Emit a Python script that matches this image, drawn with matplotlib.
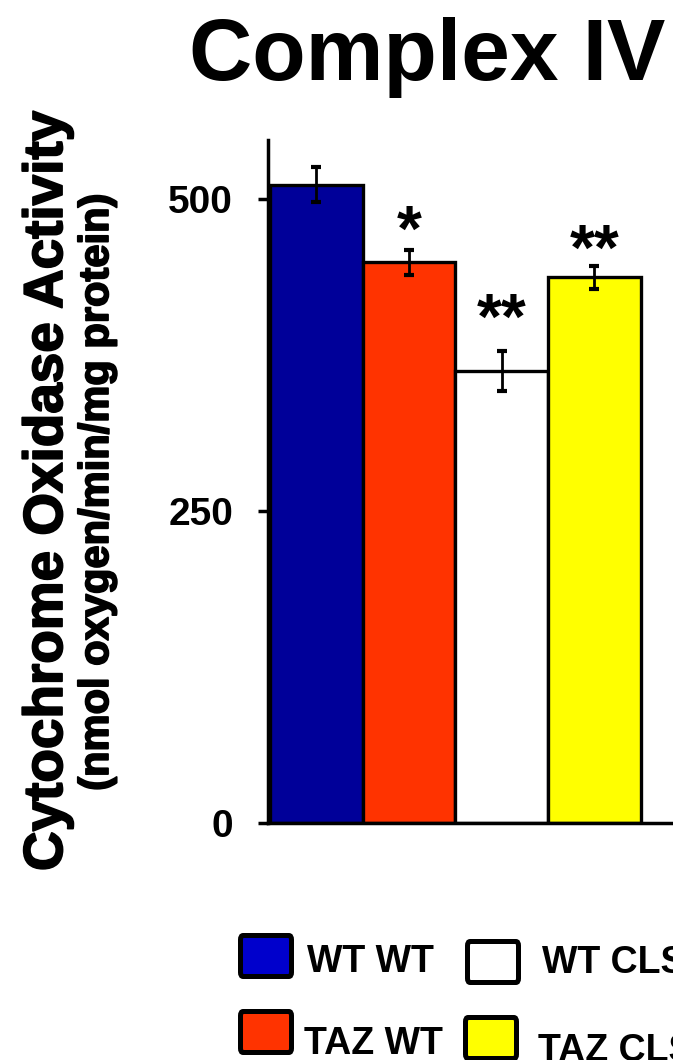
import matplotlib
matplotlib.use("Agg")
import matplotlib.pyplot as plt
from matplotlib.patches import FancyBboxPatch
import matplotlib.patheffects as pe

plt.rcParams['font.family'] = ['Liberation Sans', 'DejaVu Sans']
plt.rcParams['font.weight'] = 'bold'

# Data
categories = ["WT WT", "TAZ WT", "WT CLS", "TAZ CLS"]
activity = [511, 449, 362, 437]
sem = [14, 10, 16, 9]
significance = ["", "*", "**", "**"]
star_gap = [0, -1, 10, -3]
bar_colors = ["#000099", "#FF3300", "#FFFFFF", "#FFFF00"]
legend_colors = ["#0000CC", "#FF3300", "#FFFFFF", "#FFFF00"]
yticks = [0, 250, 500]

W, H = 673, 1060
fig = plt.figure(figsize=(W / 100, H / 100), dpi=100)

def fx(px):
    return px / W

def fy(py):
    return 1 - py / H

heavy = [pe.withStroke(linewidth=1.3, foreground="black")]

# Axes: left spine at x=268 px, baseline at y=823 px, top at y=140 px
ax = fig.add_axes([fx(268), fy(823), fx(673 - 268), (823 - 140) / H])
x = list(range(len(categories)))
ax.bar(x, activity, width=1.0, color=bar_colors, edgecolor="black",
       linewidth=2.4, zorder=2)
ax.errorbar(x, activity, yerr=sem, fmt="none", ecolor="black",
            elinewidth=2.0, capsize=3.8, capthick=3.0, zorder=3)

for xi, v, e, s, g in zip(x, activity, sem, significance, star_gap):
    if s:
        ax.text(xi, v + e + g, s, ha="center", va="baseline",
                fontsize=46, fontweight="bold", zorder=4)

ax.set_xlim(-0.522, 3.847)
ax.set_ylim(0, 547)
ax.set_xticks([])
ax.set_yticks(yticks)
ax.set_yticklabels([str(t) for t in yticks], fontsize=28, fontweight="bold")
ax.tick_params(axis="y", direction="out", length=7.2, width=2.5, pad=18)
for side in ("top", "right"):
    ax.spines[side].set_visible(False)
for side in ("left", "bottom"):
    ax.spines[side].set_linewidth(2.5)
ax.patch.set_alpha(0)

# Title
fig.text(fx(427), fy(80), "Complex IV", ha="center", va="baseline",
         fontsize=63, fontweight="bold")

# Y-axis labels
fig.text(fx(62), fy(491), "Cytochrome Oxidase Activity", rotation=90,
         rotation_mode="anchor", ha="center", va="baseline",
         fontsize=39.5, fontweight="bold", path_effects=heavy)
fig.text(fx(108), fy(492), "(nmol oxygen/min/mg protein)", rotation=90,
         rotation_mode="anchor", ha="center", va="baseline",
         fontsize=30, fontweight="bold", path_effects=heavy)

# Legend drawn as boxes and labels
legend_boxes = [(238, 933), (238, 1009), (465, 939), (463, 1015)]
legend_text = [(307, 972), (304, 1054), (542, 973), (538, 1061)]
box_w, box_h, lw_px = 56, 46, 5
for name, col, (bx, by), (tx, ty) in zip(categories, legend_colors,
                                         legend_boxes, legend_text):
    x0 = bx + lw_px / 2
    y1 = by + lw_px / 2
    w = box_w - lw_px
    h = box_h - lw_px
    patch = FancyBboxPatch((fx(x0), fy(y1 + h)), fx(w), h / H,
                           boxstyle="round,pad=0,rounding_size=0.004",
                           transform=fig.transFigure, facecolor=col,
                           edgecolor="black", linewidth=lw_px * 0.72)
    fig.patches.append(patch)
    fig.text(fx(tx), fy(ty), name, ha="left", va="baseline",
             fontsize=27, fontweight="bold")

fig.savefig("out.png", dpi=100)
